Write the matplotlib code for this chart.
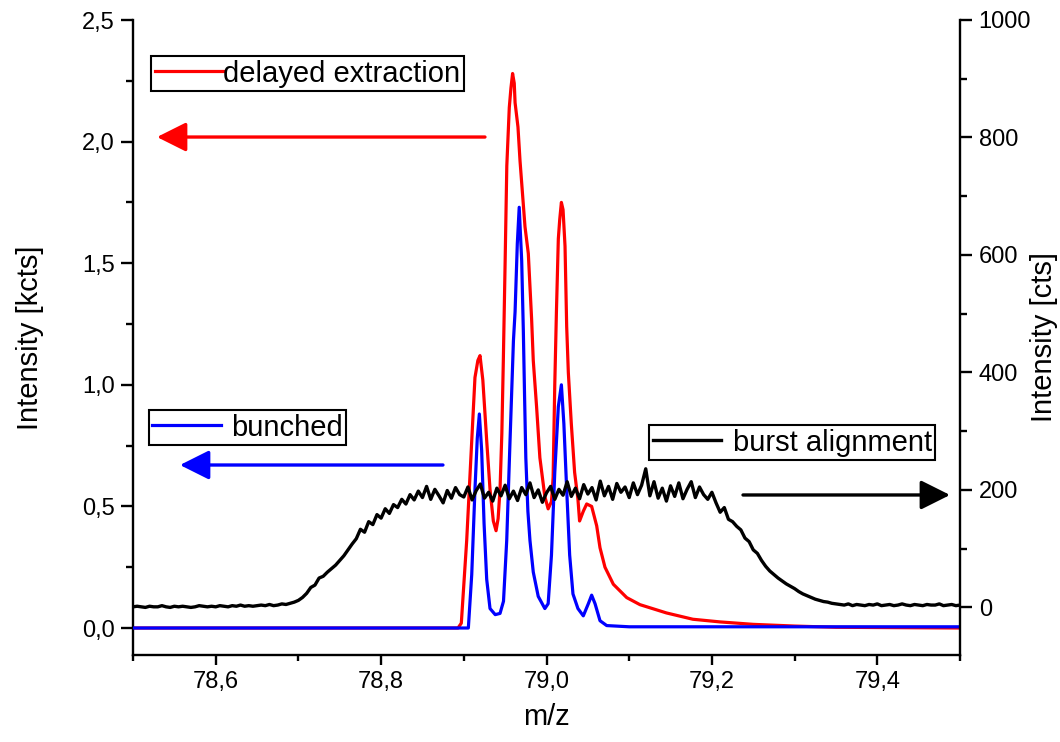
import numpy as np
import matplotlib
matplotlib.use("Agg")
import matplotlib.pyplot as plt
from matplotlib.ticker import MultipleLocator, FixedLocator, FuncFormatter

plt.rcParams['font.family'] = ['Liberation Sans', 'DejaVu Sans']

# ---------------- data ----------------
red_mz = [78.50, 78.70, 78.893, 78.897, 78.9035, 78.9096, 78.9135, 78.917, 78.9196, 78.923,
          78.9277, 78.9317, 78.9357, 78.939, 78.9415, 78.9438, 78.946, 78.9478, 78.950, 78.952,
          78.955, 78.957, 78.959, 78.961, 78.962, 78.9655, 78.968, 78.970, 78.974, 78.978,
          78.982, 78.984, 78.988, 78.992, 78.998, 79.002, 79.006, 79.008, 79.010, 79.012,
          79.0143, 79.016, 79.018, 79.020, 79.0224, 79.0244, 79.0264, 79.030, 79.034, 79.038,
          79.040, 79.0445, 79.0486, 79.0546, 79.0607, 79.0647, 79.0707, 79.0808, 79.097, 79.113,
          79.145, 79.177, 79.21, 79.25, 79.30, 79.35, 79.50]
red_kcts = [0.0, 0.0, 0.0, 0.02, 0.36, 0.77, 1.03, 1.10, 1.12, 1.02,
            0.77, 0.57, 0.44, 0.40, 0.45, 0.57, 0.80, 1.10, 1.51, 1.90,
            2.14, 2.22, 2.28, 2.24, 2.16, 2.06, 1.92, 1.83, 1.65, 1.54,
            1.27, 1.10, 0.91, 0.70, 0.54, 0.49, 0.52, 0.62, 1.00, 1.30,
            1.60, 1.68, 1.75, 1.72, 1.57, 1.24, 1.05, 0.84, 0.64, 0.53,
            0.44, 0.48, 0.51, 0.50, 0.42, 0.33, 0.25, 0.18, 0.125, 0.096,
            0.062, 0.036, 0.025, 0.015, 0.008, 0.003, 0.0]

blue_mz = [78.50, 78.80, 78.9055, 78.9096, 78.9135, 78.9163, 78.9188, 78.9216, 78.9245, 78.9277,
           78.9317, 78.938, 78.9438, 78.948, 78.9519, 78.9559, 78.960, 78.962, 78.9647, 78.967,
           78.970, 78.972, 78.9735, 78.975, 78.9775, 78.980, 78.984, 78.990, 78.998, 79.002,
           79.006, 79.010, 79.0143, 79.018, 79.021, 79.0244, 79.028, 79.032, 79.038, 79.0445,
           79.0506, 79.0546, 79.0587, 79.0647, 79.0728, 79.10, 79.50]
blue_kcts = [0.0, 0.0, 0.0, 0.22, 0.57, 0.78, 0.88, 0.73, 0.43, 0.20,
             0.08, 0.055, 0.06, 0.11, 0.36, 0.77, 1.18, 1.30, 1.58, 1.73,
             1.51, 1.22, 0.95, 0.70, 0.48, 0.36, 0.23, 0.13, 0.08, 0.10,
             0.30, 0.64, 0.91, 1.00, 0.84, 0.57, 0.30, 0.14, 0.08, 0.05,
             0.10, 0.135, 0.10, 0.03, 0.01, 0.005, 0.005]

# burst alignment, sampled every 0.005 from 78.500 to 79.500 (counts)
black_cts = [1, 2, 1, 0, 2, 1, 1, 3, 1, 0, 2, 1, 2, 1, 0, 1, 3, 2, 1, 2,
             1, 3, 2, 1, 3, 2, 4, 2, 3, 2, 3, 4, 3, 5, 3, 4, 6, 5, 7,
             9, 12, 17, 24, 34, 38, 50, 53, 60, 66, 72, 80, 88, 98, 108, 117, 133, 128, 146, 141,
             158, 152, 168, 160, 175, 170, 184, 176, 192, 183, 198, 187, 206, 184, 201, 190, 178, 199, 186, 204,
             192,
             188, 205, 183, 199, 210, 186, 196, 181, 203, 190, 208, 185, 198, 182, 204, 192, 212, 187, 200, 179,
             195, 206, 184, 201, 191, 214, 189, 203, 185, 209, 193, 204, 183, 215, 190, 206, 184, 211, 196, 205,
             187, 212, 192, 208, 236, 190, 214, 186, 203, 181, 207, 189, 212, 185, 201, 214, 187, 205, 192, 184,
             196,
             178, 162, 170, 150, 146, 138, 132, 118, 112, 98, 92, 80, 70, 62, 56, 50, 45, 40, 36, 32,
             27, 23, 20, 17, 14, 12, 10, 9, 7, 6,
             5, 4, 6, 3, 5, 4, 3, 5, 4, 6, 3, 4, 5, 3, 4, 6, 4, 3, 5, 4,
             3, 5, 4, 4, 6, 3, 4, 5, 3, 4]
black_mz = np.linspace(78.5, 79.5, len(black_cts))

x_ticks = [78.6, 78.8, 79.0, 79.2, 79.4]
left_ticks = [0.0, 0.5, 1.0, 1.5, 2.0, 2.5]
right_ticks = [0, 200, 400, 600, 800, 1000]

# ---------------- figure ----------------
fig = plt.figure(figsize=(10.6, 7.42), dpi=100)
ax = fig.add_axes([133/1060, 87/742, 827/1060, 635/742])
ax2 = ax.twinx()

lw = 2.3
l_red, = ax.plot(red_mz, red_kcts, color='#ff0000', lw=lw, label='delayed extraction', zorder=2)
l_blue, = ax.plot(blue_mz, blue_kcts, color='#0000ff', lw=lw, label='bunched', zorder=3)
l_black, = ax2.plot(black_mz, black_cts, color='black', lw=2.4, label='burst alignment')

ax.set_xlim(78.5, 79.5)
ax.set_ylim(-0.111, 2.5)
ax2.set_ylim(-81, 1000)

comma = FuncFormatter(lambda v, p: f"{v:.1f}".replace('.', ','))
ax.xaxis.set_major_locator(FixedLocator(x_ticks))
ax.xaxis.set_minor_locator(MultipleLocator(0.1))
ax.xaxis.set_major_formatter(comma)
ax.yaxis.set_major_locator(FixedLocator(left_ticks))
ax.yaxis.set_minor_locator(MultipleLocator(0.25))
ax.yaxis.set_major_formatter(comma)
ax2.yaxis.set_major_locator(FixedLocator(right_ticks))
ax2.yaxis.set_minor_locator(MultipleLocator(100))
ax2.yaxis.set_major_formatter(FuncFormatter(lambda v, p: f"{int(v)}"))

for a in (ax, ax2):
    a.spines['top'].set_visible(False)
    for s in a.spines.values():
        s.set_linewidth(1.7)
ax.spines['right'].set_visible(False)
ax2.spines['left'].set_visible(False)
ax2.spines['bottom'].set_visible(False)

ax.tick_params(axis='y', which='major', direction='out', length=9, width=1.7, labelsize=17, pad=4)
ax.tick_params(axis='y', which='minor', direction='out', length=5, width=1.7)
ax.tick_params(axis='x', which='major', direction='out', length=7.5, width=1.7, labelsize=17, pad=4)
ax.tick_params(axis='x', which='minor', direction='out', length=4.5, width=1.7)
ax2.tick_params(axis='y', which='major', direction='out', length=8.5, width=1.7, labelsize=17, pad=5)
ax2.tick_params(axis='y', which='minor', direction='out', length=5, width=1.7)

ax.set_ylabel('Intensity [kcts]', fontsize=21)
ax.yaxis.set_label_coords(-0.108, 0.5)
ax2.set_ylabel('Intensity [cts]', fontsize=21)
ax2.yaxis.set_label_coords(1.085, 0.5)
ax.set_xlabel('m/z', fontsize=21)
ax.xaxis.set_label_coords(0.5, -0.075)

# legends (each a separate framed box)
def add_leg(axis, handle, anchor, textpad):
    leg = axis.legend([handle], [handle.get_label()], loc='upper left', bbox_to_anchor=anchor,
                      bbox_transform=ax.transAxes, fontsize=21, frameon=True, fancybox=False,
                      shadow=False, borderpad=0.12, borderaxespad=0, handlelength=2.35,
                      handletextpad=textpad, framealpha=1, edgecolor='black')
    leg.get_frame().set_linewidth(1.5)
    return leg

leg1 = add_leg(ax2, l_red, (0.0218, 0.9433), 0.0)
ax2.add_artist(leg1)
leg2 = add_leg(ax2, l_blue, (0.0193, 0.3858), 0.35)
ax2.add_artist(leg2)
leg3 = add_leg(ax2, l_black, (0.624, 0.3622), 0.4)

# arrows
arrow_kw = dict(arrowstyle='-|>,head_length=0.9,head_width=0.45', lw=2.4, mutation_scale=20,
                shrinkA=0, shrinkB=0)
ax2.annotate('', xy=(0.029, 0.8157), xytext=(0.4256, 0.8157), xycoords='axes fraction',
             arrowprops=dict(color='#ff0000', **arrow_kw))
ax2.annotate('', xy=(0.0568, 0.2992), xytext=(0.3748, 0.2992), xycoords='axes fraction',
             arrowprops=dict(color='#0000ff', **arrow_kw))
ax2.annotate('', xy=(0.9879, 0.2520), xytext=(0.7376, 0.2520), xycoords='axes fraction',
             arrowprops=dict(color='black', **arrow_kw))

fig.savefig('out.png', dpi=100)
